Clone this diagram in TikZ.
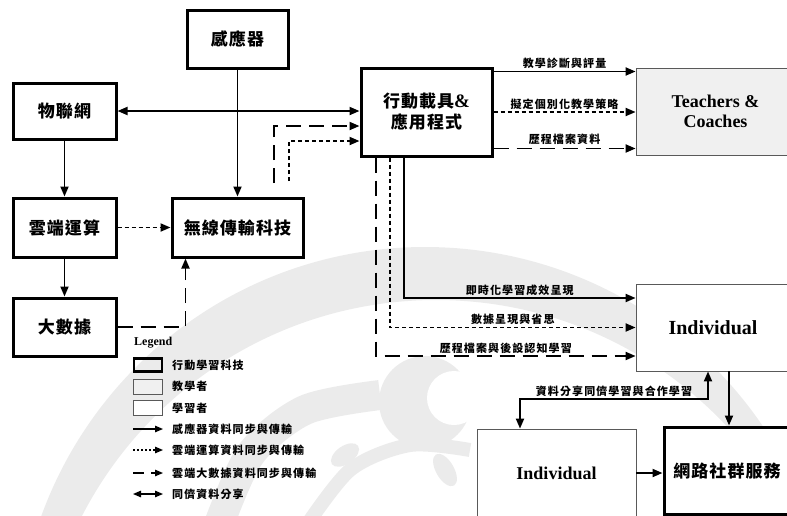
\documentclass[tikz,border=0pt]{standalone}
\usepackage{fontspec}
\setmainfont{Liberation Serif}
\newfontfamily\cjkbox{Noto Sans CJK TC}[LetterSpace=6]
\newfontfamily\cjklab{Noto Sans CJK TC}[LetterSpace=10]
\usetikzlibrary{arrows.meta,calc}
\begin{document}
\begin{tikzpicture}[x=1pt,y=-1pt,
  tech/.style={draw, line width=3pt, fill=white, align=center, inner sep=0pt,
    font=\cjkbox\bfseries\fontsize{17}{21}\selectfont},
  teachbox/.style={draw=black!65, line width=0.8pt, fill=black!6, align=center, inner sep=0pt,
    font=\bfseries\fontsize{18}{20}\selectfont},
  learnbox/.style={draw=black!65, line width=0.8pt, fill=white, align=center, inner sep=0pt,
    font=\bfseries\fontsize{18}{20}\selectfont},
  conn/.style={line width=1.9pt, -{Triangle[length=10pt,width=8pt]}},
  twoway/.style={line width=1.9pt, {Triangle[length=10pt,width=8pt]}-{Triangle[length=10pt,width=8pt]}},
  dotline/.style={dash pattern=on 4pt off 3pt},
  dashline/.style={dash pattern=on 15pt off 8pt},
  lab/.style={font=\cjklab\bfseries\fontsize{11}{12}\selectfont, inner sep=1.5pt},
  legtext/.style={font=\cjklab\bfseries\fontsize{11}{12}\selectfont, inner sep=0pt, anchor=west},
  legconn/.style={line width=1.2pt, -{Triangle[length=8pt,width=6.5pt]}},
  legtwo/.style={line width=1.2pt, {Triangle[length=8pt,width=6.5pt]}-{Triangle[length=8pt,width=6.5pt]}},
  wmc/.style={fill=black!8}
]
\useasboundingbox (0,0) rectangle (787,515);
\clip (0,0) rectangle (787,515);
% watermark
\fill[wmc, even odd rule] (425,655) circle[radius=408] (436,698) circle[radius=398];
\draw[black!8, line width=30pt] plot[smooth] coordinates {(215,535) (250,455) (305,410) (380,395)};
\fill[wmc] (425,402) circle[radius=46];
\fill[white] (454,398) circle[radius=27];
\draw[black!8, line width=14pt] plot[smooth] coordinates {(300,535) (350,470) (410,445) (470,450)};
\fill[wmc, rotate around={35:(345,455)}] (345,455) ellipse[x radius=16, y radius=9];
\fill[wmc, rotate around={-60:(445,470)}] (445,470) ellipse[x radius=18, y radius=9];

% nodes
\node[tech, minimum width=101pt, minimum height=58pt] (sensor) at (237.5,39) {感應器};
\node[tech, minimum width=103pt, minimum height=56pt] (iot) at (64.5,111) {物聯網};
\node[tech, minimum width=103pt, minimum height=59pt] (cloud) at (64.5,227.5) {雲端運算};
\node[tech, minimum width=131pt, minimum height=59pt] (wireless) at (237.5,227.5) {無線傳輸科技};
\node[tech, minimum width=103pt, minimum height=58pt] (bigdata) at (64.5,327) {大數據};
\node[tech, minimum width=131pt, minimum height=88pt] (mobile) at (426.5,112) {行動載具{\rmfamily\fontsize{19}{21}\selectfont\&}\\應用程式};
\node[teachbox, minimum width=159pt, minimum height=87pt] (teachers) at (715.5,111.5) {Teachers \&\\Coaches};
\node[learnbox, minimum width=154pt, minimum height=87pt, font=\bfseries\fontsize{20}{22}\selectfont] (indR) at (713,327.5) {Individual};
\node[learnbox, minimum width=159pt, minimum height=88pt] (indB) at (556.5,473) {Individual};
\node[tech, minimum width=126pt, minimum height=87pt] (social) at (727,470.5) {網路社群服務};

% left cluster
\draw[conn] (sensor) -- (wireless);
\draw[twoway] (iot.east) -- (iot.east -| mobile.west);
\draw[conn] (iot) -- (cloud);
\draw[conn, dotline] (cloud) -- (wireless);
\draw[conn] (cloud) -- (bigdata);
\draw[conn, dashline] (bigdata.east) -| ($(wireless.south west)+(15,0)$);
\coordinate (fa) at (274,183);
\coordinate (fb) at (289,181);
\draw[conn, dashline] (fa) |- ($(mobile.west)+(0,14)$);
\draw[conn, dotline] (fb) |- ($(mobile.west)+(0,29)$);

% mobile -> teachers
\coordinate (t1) at ($(mobile.north east)+(0,5)$);
\coordinate (t3) at ($(mobile.south east)+(0,-9)$);
\draw[conn] (t1) -- (t1 -| teachers.west) node[lab, midway, above] {教學診斷與評量};
\draw[conn, dotline] (mobile.east) -- (mobile.east -| teachers.west) node[lab, midway, above] {擬定個別化教學策略};
\draw[conn, dashline] (t3) -- (t3 -| teachers.west) node[lab, midway, above, inner sep=3pt] {歷程檔案資料};

% mobile -> individual
\coordinate (m1) at ($(mobile.south)+(-22.5,0)$);
\coordinate (m2) at ($(mobile.south)+(-36.5,0)$);
\coordinate (m3) at ($(mobile.south)+(-50.5,0)$);
\draw[conn] (m1) |- ($(indR.west)+(0,-29.5)$) node[lab, pos=0.75, above] {即時化學習成效呈現};
\draw[conn, dotline] (m2) |- (indR.west) node[lab, pos=0.75, above] {數據呈現與省思};
\draw[conn, dashline] (m3) |- ($(indR.west)+(0,28.5)$) node[lab, pos=0.75, above] {歷程檔案與後設認知學習};

% individual links
\coordinate (r1) at ($(indR.south)+(16,0)$);
\draw[conn] (r1) -- (r1 |- social.north);
\coordinate (r2) at ($(indR.south)+(-5,0)$);
\coordinate (b2) at ($(indB.north)+(-36.5,0)$);
\draw[twoway] (r2) -- ++(0,28) -| node[lab, pos=0.25, above] {資料分享同儕學習與合作學習} (b2);
\draw[conn] (indB.east) -- (indB.east -| social.west);

% legend
\node[font=\bfseries\fontsize{12}{12}\selectfont, anchor=west, inner sep=0pt] (legt) at (134,343) {Legend};
\node[draw, line width=2.6pt, minimum width=28pt, minimum height=13pt, inner sep=0pt] (lg1) at (148,365) {};
\node[draw=black!65, fill=black!6, line width=0.8pt, minimum width=29pt, minimum height=15pt, inner sep=0pt] (lg2) at (148,386.5) {};
\node[draw=black!65, fill=white, line width=0.8pt, minimum width=29pt, minimum height=15pt, inner sep=0pt] (lg3) at (148,408) {};
\node[legtext] (lt1) at (172,365) {行動學習科技};
\node[legtext] (lt2) at (172,386.5) {教學者};
\node[legtext] (lt3) at (172,408) {學習者};
\node[legtext] (lt4) at (172,429) {感應器資料同步與傳輸};
\node[legtext] (lt5) at (172,450) {雲端運算資料同步與傳輸};
\node[legtext] (lt6) at (172,473) {雲端大數據資料同步與傳輸};
\node[legtext] (lt7) at (172,494) {同儕資料分享};
\coordinate (la4) at (133,429); \coordinate (lb4) at (163,429);
\coordinate (la5) at (133,450); \coordinate (lb5) at (163,450);
\coordinate (la6) at (133,473); \coordinate (lb6) at (163,473);
\coordinate (la7) at (133,494); \coordinate (lb7) at (163,494);
\draw[legconn] (la4) -- (lb4);
\draw[legconn, dash pattern=on 2pt off 2pt] (la5) -- (lb5);
\draw[legconn, dash pattern=on 11pt off 7pt] (la6) -- (lb6);
\draw[legtwo] (la7) -- (lb7);
\end{tikzpicture}
\end{document}
